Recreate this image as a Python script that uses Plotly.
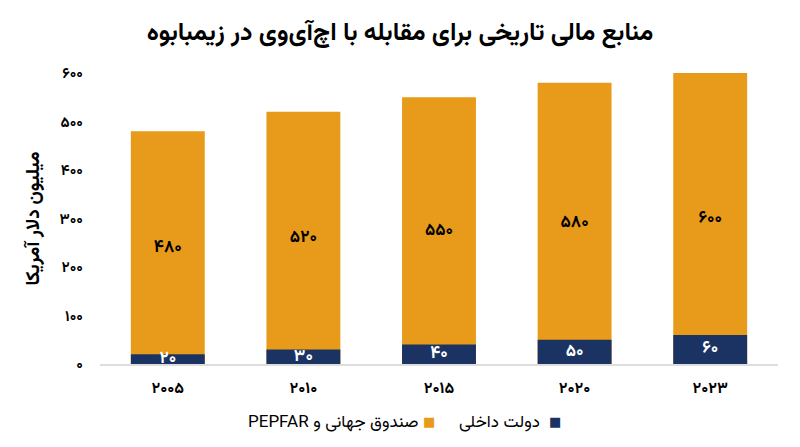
import plotly.graph_objects as go

# داده‌ها
salha = ['۲۰۰۵', '۲۰۱۰', '۲۰۱۵', '۲۰۲۰', '۲۰۲۳']
sandogh_jahani = [480, 520, 550, 580, 600]   # صندوق جهانی و PEPFAR
dolat_dakheli = [20, 30, 40, 50, 60]          # دولت داخلی
mehvar_y = [0, 100, 200, 300, 400, 500, 600]

FA = str.maketrans('0123456789', '۰۱۲۳۴۵۶۷۸۹')


def fa(n):
    return str(n).translate(FA)


def rtl(s):
    # متن راست به چپ داخل SVG
    return '\u202b' + s + '\u202c'


NARENJI = '#E89A1B'
SORMEYI = '#1B3363'
FONT = 'Vazirmatn, DejaVu Sans, Noto Sans, sans-serif'

trace1 = go.Bar(
    x=salha, y=sandogh_jahani, name='صندوق جهانی و PEPFAR',
    marker=dict(color=NARENJI, line=dict(width=0)),
    text=[fa(v) for v in sandogh_jahani], textposition='inside',
    insidetextanchor='middle', constraintext='none', textangle=0,
    textfont=dict(color='black', size=17, family=FONT, weight='bold'),
    hoverinfo='skip',
)
trace2 = go.Bar(
    x=salha, y=dolat_dakheli, name='دولت داخلی',
    marker=dict(color=SORMEYI, line=dict(width=0)),
    text=[fa(v) for v in dolat_dakheli], textposition='inside',
    insidetextanchor='middle', constraintext='none', textangle=0,
    textfont=dict(color='white', size=17, family=FONT, weight='bold'),
    hoverinfo='skip',
)

fig = go.Figure(data=[trace1, trace2])

fig.update_layout(
    width=800, height=447,
    barmode='overlay', bargap=0.455,
    showlegend=False,
    paper_bgcolor='white', plot_bgcolor='white',
    margin=dict(l=100, r=22, t=73, b=83),
    font=dict(family=FONT, color='black'),
    title=dict(text=rtl('منابع مالی تاریخی برای مقابله با اچ‌آی‌وی در زیمبابوه'),
               x=0.5, xanchor='center', y=0.93, yanchor='middle',
               font=dict(size=25, family=FONT, weight='bold')),
)

fig.update_xaxes(
    showline=True, linecolor='#dddddd', linewidth=1.5,
    showgrid=False, ticks='',
    tickfont=dict(size=16, family=FONT, weight='bold'),
    ticklabelstandoff=8,
)
fig.update_yaxes(
    range=[0, 600], showgrid=False, zeroline=False, showline=False,
    tickvals=mehvar_y, ticktext=[fa(v) for v in mehvar_y],
    tickfont=dict(size=15, family=FONT, weight='bold'),
    ticklabelstandoff=16,
    title=dict(text=rtl('میلیون دلار آمریکا'), standoff=14,
               font=dict(size=19, family=FONT, weight='bold')),
)

# راهنما (راست به چپ)
rahnama = [
    (0.671, 0.652, SORMEYI, 'دولت داخلی'),
    (0.485, 0.472, NARENJI, 'صندوق جهانی و PEPFAR'),
]
for xs, xt, rang, matn in rahnama:
    fig.add_annotation(x=xs, y=-0.203, xref='paper', yref='paper',
                       text='■', showarrow=False, xanchor='center', yanchor='middle',
                       font=dict(size=13, color=rang))
    fig.add_annotation(x=xt, y=-0.203, xref='paper', yref='paper',
                       text=rtl(matn), showarrow=False, xanchor='right', yanchor='middle',
                       font=dict(size=17, family=FONT, color='black'))

fig.write_html("out.html", config={'displayModeBar': False},
               post_script="document.body.style.margin='0';")
